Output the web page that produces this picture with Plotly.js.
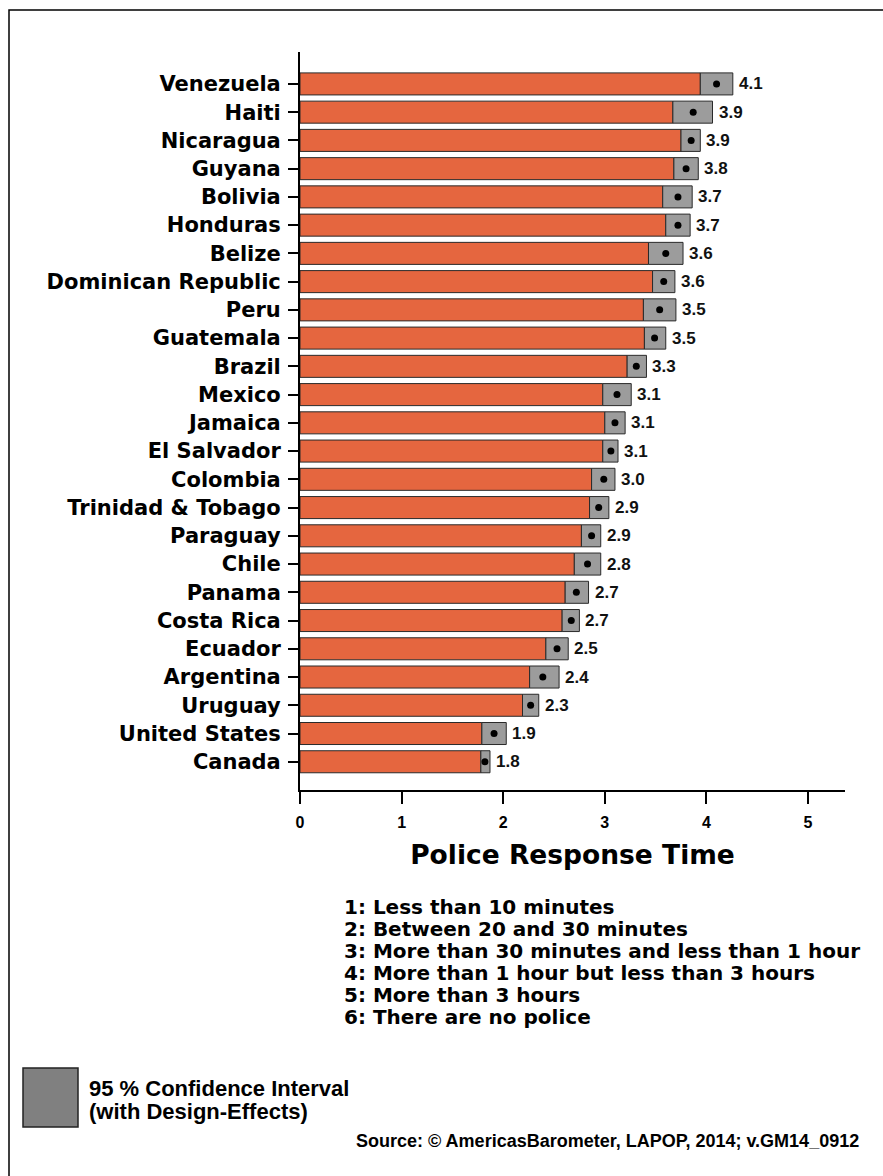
<!DOCTYPE html>
<html>
<head>
<meta charset="utf-8">
<script src="https://cdn.plot.ly/plotly-3.0.1.min.js"></script>
<style>
html,body{margin:0;padding:0;background:#fff;}
#chart{width:883px;height:1176px;}
</style>
</head>
<body>
<div id="chart"></div>
<script>
// ---- data (top to bottom) ----
const countries = ["Venezuela","Haiti","Nicaragua","Guyana","Bolivia","Honduras","Belize","Dominican Republic","Peru","Guatemala","Brazil","Mexico","Jamaica","El Salvador","Colombia","Trinidad & Tobago","Paraguay","Chile","Panama","Costa Rica","Ecuador","Argentina","Uruguay","United States","Canada"];
const ciLower = [3.94,3.67,3.75,3.68,3.57,3.60,3.43,3.47,3.38,3.39,3.22,2.98,3.00,2.98,2.87,2.85,2.77,2.70,2.61,2.58,2.42,2.26,2.19,1.79,1.78];
const means   = [4.10,3.87,3.85,3.80,3.72,3.72,3.60,3.58,3.54,3.49,3.31,3.12,3.10,3.06,2.99,2.94,2.87,2.83,2.72,2.67,2.53,2.39,2.27,1.91,1.82];
const ciUpper = [4.26,4.06,3.94,3.92,3.86,3.84,3.77,3.69,3.70,3.60,3.41,3.26,3.20,3.13,3.10,3.04,2.96,2.96,2.84,2.75,2.64,2.55,2.35,2.03,1.87];
const valueLabels = ["4.1","3.9","3.9","3.8","3.7","3.7","3.6","3.6","3.5","3.5","3.3","3.1","3.1","3.1","3.0","2.9","2.9","2.8","2.7","2.7","2.5","2.4","2.3","1.9","1.8"];
const xTicks = [0,1,2,3,4,5];
const axisTitle = "Police Response Time";
const scaleNotes = ["1: Less than 10 minutes","2: Between 20 and 30 minutes","3: More than 30 minutes and less than 1 hour","4: More than 1 hour but less than 3 hours","5: More than 3 hours","6: There are no police"];
const ciNote = ["95 % Confidence Interval","(with Design-Effects)"];
const sourceNote = "Source: \u00A9 AmericasBarometer, LAPOP, 2014; v.GM14_0912";

// ---- geometry helpers (pixel -> paper) ----
const W = 883, H = 1176;
const ML = 300, MR = 38, MT = 52, MB = 386;
const PW = W - ML - MR, PH = H - MT - MB;
const px = x => (x - ML) / PW;
const py = y => (H - MB - y) / PH;

const heavy = "DejaVu Sans, Noto Sans, sans-serif";
const arial = "Liberation Sans, Arial, sans-serif";

const ciWidth = ciUpper.map((u, i) => u - ciLower[i]);

const traces = [
  {
    type: "bar", orientation: "h", y: countries, x: ciLower, base: 0,
    marker: {color: "#E5663F", line: {color: "#2a2a2a", width: 1}},
    width: 0.78, hoverinfo: "skip", showlegend: false
  },
  {
    type: "bar", orientation: "h", y: countries, x: ciWidth, base: ciLower,
    marker: {color: "#9C9C9C", line: {color: "#2a2a2a", width: 1}},
    width: 0.78, hoverinfo: "skip", showlegend: false
  },
  {
    type: "scatter", mode: "markers", y: countries, x: means,
    marker: {color: "#000", size: 7}, hoverinfo: "skip", showlegend: false
  }
];

const annotations = [];
// value labels right of each confidence box
countries.forEach((c, i) => {
  annotations.push({
    xref: "x", yref: "y", x: ciUpper[i], y: c, xanchor: "left", yanchor: "middle",
    xshift: 4, showarrow: false, text: valueLabels[i],
    font: {family: arial, size: 17, color: "#111", weight: "bold"}
  });
});
scaleNotes.forEach((t, i) => {
  annotations.push({
    xref: "paper", yref: "paper", x: px(342), y: py(907 + 22 * i),
    xanchor: "left", yanchor: "middle", showarrow: false, text: t,
    font: {family: heavy, size: 20, color: "#000", weight: "bold"}
  });
});
ciNote.forEach((t, i) => {
  annotations.push({
    xref: "paper", yref: "paper", x: px(87), y: py(1088 + 23 * i),
    xanchor: "left", yanchor: "middle", showarrow: false, text: t,
    font: {family: arial, size: 22, color: "#000", weight: "bold"}
  });
});
annotations.push({
  xref: "paper", yref: "paper", x: px(861), y: py(1141),
  xanchor: "right", yanchor: "middle", showarrow: false, text: sourceNote,
  font: {family: arial, size: 18, color: "#000", weight: "bold"}
});

const shapes = [
  {type: "rect", xref: "paper", yref: "paper",
   x0: px(9), x1: px(900), y0: py(1200), y1: py(10),
   line: {color: "#000", width: 1.5}, fillcolor: "rgba(0,0,0,0)", layer: "below"},
  {type: "rect", xref: "paper", yref: "paper",
   x0: px(23), x1: px(78), y0: py(1127), y1: py(1068),
   line: {color: "#222", width: 1.5}, fillcolor: "#808080"}
];

const layout = {
  width: W, height: H,
  margin: {l: ML, r: MR, t: MT, b: MB, pad: 0},
  paper_bgcolor: "#fff", plot_bgcolor: "#fff",
  barmode: "overlay",
  showlegend: false,
  xaxis: {
    range: [0, PW / 101.6], tickvals: xTicks, ticktext: xTicks.map(String),
    showgrid: false, zeroline: false, showline: true, linecolor: "#000", linewidth: 2,
    ticks: "outside", ticklen: 12, tickwidth: 2, tickcolor: "#000",
    ticklabelstandoff: 5,
    tickfont: {family: arial, size: 16, color: "#000", weight: "bold"},
    title: {text: axisTitle, standoff: 15,
            font: {family: heavy, size: 26.5, color: "#000", weight: "bold"}},
    fixedrange: true
  },
  yaxis: {
    type: "category", categoryorder: "array", categoryarray: countries,
    range: [25, -1.13],
    showgrid: false, zeroline: false, showline: true, linecolor: "#000", linewidth: 2,
    ticks: "outside", ticklen: 10, tickwidth: 2, tickcolor: "#000",
    ticklabelstandoff: 3,
    tickfont: {family: heavy, size: 21, color: "#000", weight: "bold"},
    fixedrange: true
  },
  annotations: annotations,
  shapes: shapes
};

Plotly.newPlot("chart", traces, layout, {displayModeBar: false, staticPlot: true});
</script>
</body>
</html>
